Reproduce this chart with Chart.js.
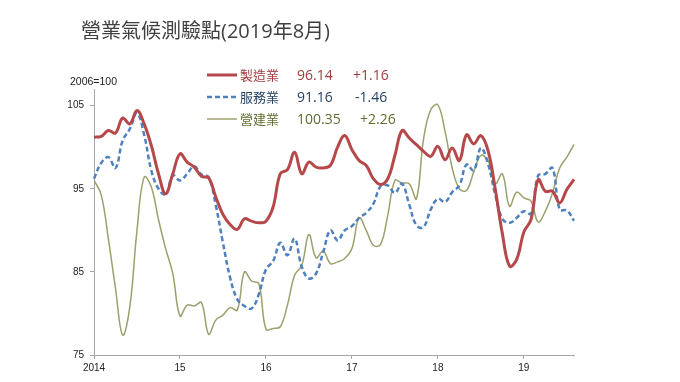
<!DOCTYPE html>
<html>
<head>
<meta charset="utf-8">
<script src="https://cdn.jsdelivr.net/npm/chart.js@4.4.1/dist/chart.umd.min.js"></script>
<style>
  body { margin: 0; background: #fff; }
  #wrap { position: relative; width: 680px; height: 382px; overflow: hidden; }
  #chart { position: absolute; left: 0; top: 0; }
  .txt { position: absolute; white-space: nowrap; font-family: "Open Sans", "Noto Sans CJK TC", sans-serif; }
  #title { left: 81px; top: 17px; font-size: 20px; line-height: 28px; color: #404040; }
  #base { left: 70px; top: 74px; font-family: "Liberation Sans", Arial, sans-serif; font-size: 10.5px; line-height: 14px; color: #222; }
  .row { position: absolute; height: 20px; line-height: 20px; font-size: 14px; }
  .row span { position: absolute; white-space: nowrap; font-family: "Open Sans", "Noto Sans CJK TC", sans-serif; }
  .row .name { font-family: "Noto Sans CJK TC", sans-serif; font-size: 13px; }
  .row svg { position: absolute; left: 207px; top: 7px; }
</style>
</head>
<body>
<div id="wrap">
  <canvas id="chart" width="680" height="382"></canvas>
  <div class="txt" id="title">營業氣候測驗點(2019年8月)</div>
  <div class="txt" id="base">2006=100</div>
  <div id="legend"></div>
</div>
<script>
const startYear = 2014;
const yearLabels = ["2014", "15", "16", "17", "18", "19"];
const yTicks = [75, 85, 95, 105];

const manufacturing = [
  101.2, 101.3, 102.0, 101.7, 103.5, 102.8, 104.4, 102.8, 100.2, 96.8, 94.4, 96.8,
  99.2, 98.2, 97.6, 96.5, 96.3, 94.0, 91.9, 90.7, 90.1, 91.4, 91.1, 90.9,
  91.1, 92.8, 96.8, 97.3, 99.4, 96.8, 98.2, 97.6, 97.5, 97.8, 100.0, 101.4,
  99.7, 98.4, 97.8, 96.2, 95.5, 96.2, 99.0, 102.0, 101.1, 100.3, 99.5, 98.9,
  100.1, 98.5, 99.9, 98.4, 101.5, 100.4, 101.4, 99.6, 95.0, 89.6, 85.7, 86.5,
  89.8, 91.3, 96.1, 94.7, 94.7, 93.3, 94.9, 96.14
];
const services = [
  96.2, 98.1, 98.8, 97.5, 100.8, 102.2, 104.1, 101.5, 97.2, 95.0, 94.3, 96.6,
  96.0, 96.8, 97.7, 96.7, 96.4, 93.0, 88.5, 84.3, 81.7, 80.9, 80.6, 82.3,
  85.3, 86.3, 88.5, 87.0, 89.0, 85.6, 84.2, 84.8, 87.4, 90.0, 88.8, 90.0,
  90.5, 91.5, 92.1, 93.2, 95.3, 95.4, 94.5, 95.6, 93.1, 90.6, 90.4, 92.5,
  93.8, 93.4, 94.6, 95.4, 97.9, 97.2, 99.9, 98.0, 94.3, 91.4, 90.9, 91.5,
  92.3, 92.0, 96.6, 96.8, 97.5, 92.5, 92.4, 91.16
];
const construction = [
  96.0, 94.3, 89.0, 83.0, 77.4, 80.8, 90.0, 96.4, 95.2, 91.3, 87.8, 84.8,
  79.7, 81.0, 80.9, 81.3, 77.5, 79.2, 79.8, 80.7, 80.4, 85.0, 83.9, 83.6,
  78.1, 78.2, 78.4, 81.0, 84.6, 85.8, 89.5, 86.7, 87.5, 86.0, 86.2, 86.6,
  87.8, 91.5, 90.0, 88.2, 88.3, 91.8, 96.0, 95.7, 95.6, 93.8, 101.0, 104.5,
  105.1, 101.9, 97.5, 95.0, 94.8, 97.0, 99.0, 98.4, 95.6, 96.8, 92.9, 94.6,
  93.9, 93.5, 91.0, 92.3, 94.5, 97.5, 98.8, 100.35
];

const seriesNames = ["製造業", "服務業", "營建業"];
const latestValues = ["96.14", "91.16", "100.35"];
const monthChanges = ["+1.16", "-1.46", "+2.26"];

// one category per month, Jan 2014 onward
const months = [];
for (let i = 0; i < manufacturing.length; i++) {
  months.push(`${startYear + Math.floor(i / 12)}-${String(i % 12 + 1).padStart(2, "0")}`);
}

const colors = ["#b5484a", "#4f81bd", "#9ca06c"];
const textColors = ["#a03c3c", "#243f60", "#5f6d2e"];
const axisColor = "#a6a6a6";

// legend built as html text
const rowTops = [65, 87, 109];
const changeLefts = [353, 355, 360];
const legend = document.getElementById("legend");
seriesNames.forEach((name, i) => {
  const row = document.createElement("div");
  row.className = "row";
  row.style.top = rowTops[i] + "px";
  let line;
  if (i === 0) line = `<line x1="0" y1="3" x2="30" y2="3" stroke="${colors[0]}" stroke-width="3"/>`;
  if (i === 1) line = `<line x1="0" y1="3" x2="30" y2="3" stroke="${colors[1]}" stroke-width="2.5" stroke-dasharray="5,3"/>`;
  if (i === 2) line = `<line x1="0" y1="3" x2="30" y2="3" stroke="${colors[2]}" stroke-width="1.5"/>`;
  row.innerHTML = `
    <svg width="31" height="6">${line}</svg>
    <span class="name" style="left:240px;color:${textColors[i]}">${name}</span>
    <span style="left:297px;color:${textColors[i]}">${latestValues[i]}</span>
    <span style="left:${changeLefts[i]}px;color:${textColors[i]}">${monthChanges[i]}</span>
  `;
  legend.appendChild(row);
});

const ctx = document.getElementById("chart").getContext("2d");
new Chart(ctx, {
  type: "line",
  data: {
    labels: months,
    datasets: [
      { label: seriesNames[0], data: manufacturing, borderColor: colors[0], borderWidth: 3 },
      { label: seriesNames[1], data: services, borderColor: colors[1], borderWidth: 2.5, borderDash: [5, 3] },
      { label: seriesNames[2], data: construction, borderColor: colors[2], borderWidth: 1.5 },
    ],
  },
  options: {
    responsive: false,
    animation: false,
    layout: { padding: { left: 0, right: 106, top: 89, bottom: 0 } },
    elements: {
      point: { radius: 0 },
      line: { tension: 0.4, fill: false },
    },
    plugins: {
      legend: { display: false },
      tooltip: { enabled: false },
    },
    scales: {
      x: {
        offset: false,
        border: { display: true, color: axisColor, width: 1 },
        grid: {
          drawOnChartArea: false,
          drawTicks: true,
          tickLength: 4,
          color: (c) => (c.index % 12 === 0 ? axisColor : "rgba(0,0,0,0)"),
        },
        ticks: {
          autoSkip: false,
          maxRotation: 0,
          padding: 3,
          color: "#222",
          font: { family: "Liberation Sans", size: 10 },
          callback: (v, i) => (i % 12 === 0 ? yearLabels[i / 12] : ""),
        },
        afterFit: (scale) => { scale.height = 27; },
      },
      y: {
        min: 75,
        max: 107,
        border: { display: true, color: axisColor, width: 1 },
        grid: { drawOnChartArea: false, drawTicks: true, tickLength: 4, color: axisColor },
        ticks: {
          padding: 6,
          color: "#222",
          font: { family: "Liberation Sans", size: 10 },
        },
        afterBuildTicks: (scale) => { scale.ticks = yTicks.map((v) => ({ value: v })); },
        afterFit: (scale) => { scale.width = 94; },
      },
    },
  },
});
</script>
</body>
</html>
